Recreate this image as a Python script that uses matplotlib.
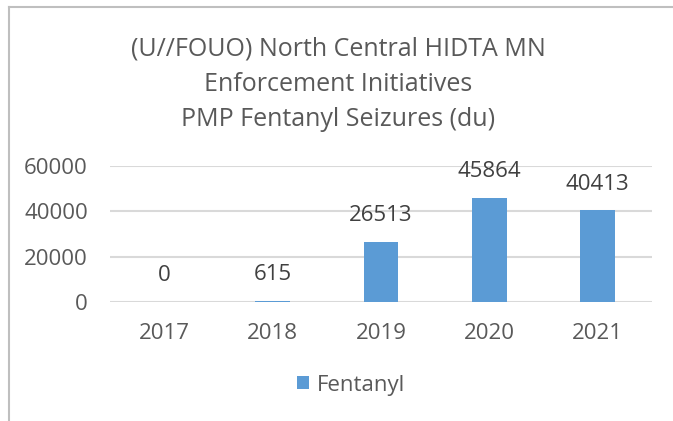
import matplotlib
matplotlib.use('Agg')
import matplotlib.pyplot as plt
from matplotlib.lines import Line2D
import numpy as np

# data
years = ['2017', '2018', '2019', '2020', '2021']
fentanyl_du = [0, 615, 26513, 45864, 40413]
yticks = [0, 20000, 40000, 60000]
title_lines = ['(U//FOUO) North Central HIDTA MN',
               'Enforcement Initiatives',
               'PMP Fentanyl Seizures (du)']

BAR = '#5B9BD5'
GRID = '#D9D9D9'
TXT = '#595959'
LBL = '#404040'

plt.rcParams['font.family'] = ['Open Sans', 'DejaVu Sans']

fig = plt.figure(figsize=(6.73, 4.21), dpi=100)
fig.patch.set_facecolor('white')

# chart frame (left + top edges only visible in the crop)
fig.add_artist(Line2D([9/673, 9/673], [0, 1 - 7/421], transform=fig.transFigure,
                      color='#BFBFBF', lw=1.5))
fig.add_artist(Line2D([9/673, 1], [1 - 7/421, 1 - 7/421], transform=fig.transFigure,
                      color='#BFBFBF', lw=1.5))

ax = fig.add_axes([110/673, 119/421, 542/673, 136/421])
x = np.arange(len(years))
bars = ax.bar(x, fentanyl_du, width=0.32, color=BAR, linewidth=0,
              label='Fentanyl', zorder=3)

for xi, v in zip(x, fentanyl_du):
    ax.annotate(f'{v}', xy=(xi, v), xytext=(0, 19), textcoords='offset points',
                ha='center', va='center', fontsize=16, color=LBL)

ax.set_xlim(-0.5, len(years) - 0.5)
ax.set_ylim(0, 60000)
ax.set_yticks(yticks)
ax.set_xticks(x)
ax.set_xticklabels(years)
ax.tick_params(axis='both', length=0, labelsize=16, labelcolor=TXT)
ax.tick_params(axis='y', pad=16)
ax.tick_params(axis='x', pad=15)
ax.grid(axis='y', color=GRID, lw=1.5, zorder=0)
for s in ax.spines.values():
    s.set_visible(False)

for i, line in enumerate(title_lines):
    fig.text(338/673, 1 - (49 + 35.5*i)/421, line, ha='center', va='center',
             fontsize=18, color=TXT)

fig.legend(handles=[bars], labels=['Fentanyl'], loc='center',
           bbox_to_anchor=(351/673, 1 - 385/421), frameon=False,
           fontsize=16, labelcolor=TXT, handlelength=0.55, handleheight=0.55,
           handletextpad=0.35)

fig.savefig('out.png', dpi=100, facecolor='white')
